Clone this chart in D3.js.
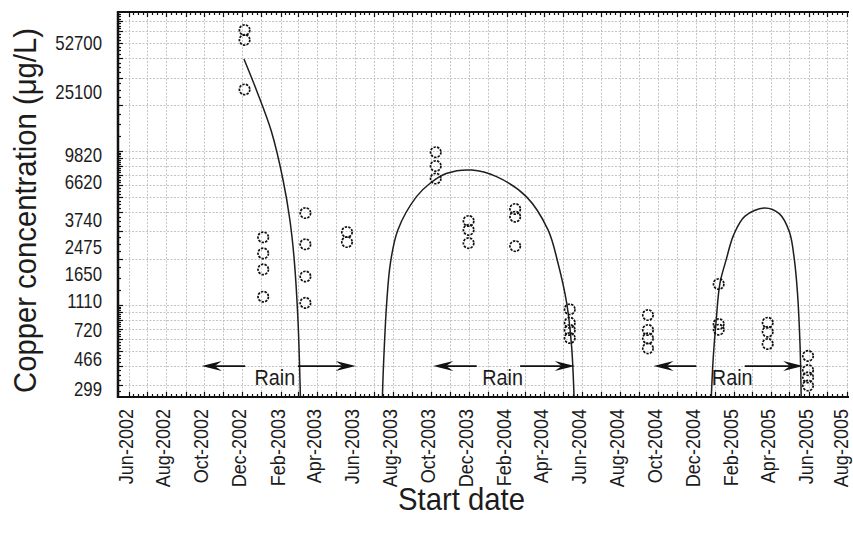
<!DOCTYPE html>
<html>
<head>
<meta charset="utf-8">
<script src="https://cdn.jsdelivr.net/npm/d3@7"></script>
<style>
  body { margin: 0; background: #fff; }
  svg text { font-family: "Liberation Sans", Arial, sans-serif; fill: #1c1c1c; }
</style>
</head>
<body>
<svg id="chart" width="853" height="535"></svg>
<script>
// ---- sampling campaigns: start date and copper concentrations (µg/L) ----
const sampleDates = [
  "2002-12-05", "2003-01-04", "2003-03-13", "2003-05-19",
  "2003-10-09", "2003-12-01", "2004-02-14", "2004-05-12",
  "2004-09-15", "2005-01-07", "2005-03-27", "2005-05-31"
];
const sampleValues = [
  [61100, 52700, 25100],
  [2750, 2160, 1700, 1130],
  [3950, 2475, 1530, 1030],
  [2975, 2560],
  [9820, 7990, 6620],
  [3510, 3070, 2520],
  [4200, 3740, 2410],
  [936, 766, 687, 609],
  [859, 687, 606, 522],
  [1367, 751, 690],
  [766, 669, 557],
  [466, 377, 338, 299]
];

// ---- seasonal trend curves ----
const trend1Dates = ["2002-12-04", "2002-12-24", "2003-01-17", "2003-02-05", "2003-02-16",
                     "2003-02-23", "2003-03-01", "2003-03-05"];
const trend1Values = [39600, 24900, 13490, 6480, 3560, 1960, 800, 245];

const trend2Dates = ["2003-07-15", "2003-07-17", "2003-07-22", "2003-07-28", "2003-08-09",
                     "2003-09-08", "2003-09-30", "2003-10-27", "2003-12-06", "2004-01-15",
                     "2004-03-03", "2004-04-07", "2004-04-23", "2004-05-07", "2004-05-15",
                     "2004-05-19"];
const trend2Values = [245, 419, 1029, 1870, 3070, 5050, 6170, 7160, 7520, 6810,
                      5050, 3070, 1870, 1030, 535, 245];

const trend3Dates = ["2004-12-26", "2004-12-29", "2005-01-03", "2005-01-09", "2005-01-19",
                     "2005-01-31", "2005-02-18", "2005-03-22", "2005-04-15", "2005-05-01",
                     "2005-05-09", "2005-05-14", "2005-05-18", "2005-05-20"];
const trend3Values = [245, 438, 797, 1380, 1960, 2840, 3760, 4260, 3900, 2975,
                      1960, 1190, 563, 245];

// ---- rain season annotations ----
const rainArrowFrom = ["2002-12-06", "2003-03-01", "2003-12-14", "2004-02-22", "2004-12-02", "2005-02-18"];
const rainArrowTo   = ["2002-09-27", "2003-06-02", "2003-10-05", "2004-05-20", "2004-09-24", "2005-05-23"];
const rainLabelDates = ["2002-12-21", "2003-12-23", "2004-12-27"];
const rainArrowLevel = 400;
const rainLabelLevel = 300;

// ---- axis labels ----
const yTickLabels = [299, 466, 720, 1110, 1650, 2475, 3740, 6620, 9820, 25100, 52700];
const xAxisTitle = "Start date";
const yAxisTitle = "Copper concentration (μg/L)";

// ------------------------------------------------------------------
const parse = d3.timeParse("%Y-%m-%d");
const svg = d3.select("#chart");

const plotLeft = 118, plotRight = 849, plotTop = 12, plotBottom = 397;

const x = d3.scaleTime()
  .domain([parse("2002-05-15"), parse("2005-08-05")])
  .range([plotLeft, plotRight]);
const y = d3.scaleLog()
  .domain([252, 80000])
  .range([plotBottom, plotTop]);

svg.append("defs").append("clipPath").attr("id", "plotClip")
  .append("rect")
  .attr("x", plotLeft).attr("y", plotTop)
  .attr("width", plotRight - plotLeft).attr("height", plotBottom - plotTop);

// grid
const months = d3.timeMonth.range(x.domain()[0], x.domain()[1]);
const gridValues = y.ticks().filter(v => v > y.domain()[0] && v < y.domain()[1]);

const grid = svg.append("g")
  .attr("stroke", "#c4c4c4")
  .attr("stroke-width", 1)
  .attr("stroke-dasharray", "2,1.5");

grid.selectAll("line.v").data(months).join("line")
  .attr("class", "v")
  .attr("x1", d => Math.round(x(d)) + 0.5).attr("x2", d => Math.round(x(d)) + 0.5)
  .attr("y1", plotTop).attr("y2", plotBottom);

grid.selectAll("line.h").data(gridValues).join("line")
  .attr("class", "h")
  .attr("x1", plotLeft).attr("x2", plotRight)
  .attr("y1", d => Math.round(y(d)) + 0.5).attr("y2", d => Math.round(y(d)) + 0.5);

// axis frame
const frame = svg.append("g").attr("stroke", "#111").attr("fill", "none");
frame.append("line").attr("x1", plotLeft).attr("x2", plotRight).attr("y1", plotTop).attr("y2", plotTop).attr("stroke-width", 2);
frame.append("line").attr("x1", plotLeft).attr("x2", plotRight).attr("y1", plotBottom).attr("y2", plotBottom).attr("stroke-width", 2);
frame.append("line").attr("x1", plotLeft).attr("x2", plotLeft).attr("y1", plotTop - 1).attr("y2", plotBottom + 1).attr("stroke-width", 2.5);

// x ticks: month starts plus quarter-month minors, on top and bottom
const xMinor = [];
months.forEach(m => {
  const next = d3.timeMonth.offset(m, 1);
  for (let k = 1; k < 4; k++) xMinor.push(new Date(+m + (next - m) * k / 4));
});
const xTickG = svg.append("g").attr("stroke", "#111").attr("stroke-width", 1.2);
[[months, 5], [xMinor.filter(d => x(d) < plotRight), 3]].forEach(([set, len]) => {
  set.forEach(d => {
    const px = Math.round(x(d)) + 0.5;
    xTickG.append("line").attr("x1", px).attr("x2", px).attr("y1", plotTop).attr("y2", plotTop + len);
    xTickG.append("line").attr("x1", px).attr("x2", px).attr("y1", plotBottom).attr("y2", plotBottom - len);
  });
});

// y ticks: grid values long, quarter-step minors short
const yMinor = [];
for (let e = 2; e <= 4; e++) {
  for (let m = 1; m < 10; m += 0.25) {
    const v = m * Math.pow(10, e);
    if (v > y.domain()[0] && v < y.domain()[1] && !gridValues.includes(v)) yMinor.push(v);
  }
}
const yTickG = svg.append("g").attr("stroke", "#111").attr("stroke-width", 1.2);
[[gridValues, 5], [yMinor, 3]].forEach(([set, len]) => {
  set.forEach(v => {
    const py = Math.round(y(v)) + 0.5;
    yTickG.append("line").attr("x1", plotLeft).attr("x2", plotLeft + len).attr("y1", py).attr("y2", py);
  });
});

// condensed lettering: glyphs are narrowed along the reading direction
// y tick labels
svg.append("g").selectAll("text").data(yTickLabels).join("text")
  .attr("transform", d => `translate(102,${y(d) + 10}) scale(0.84,1)`)
  .attr("text-anchor", "end")
  .attr("font-size", "20px")
  .text(d => d);

// x tick labels, every other month from Jun-2002 (kept inside the right edge)
const fmt = d3.timeFormat("%b-%Y");
const xLabelMonths = months.filter((d, i) => i % 2 === 0);
svg.append("g").selectAll("text").data(xLabelMonths).join("text")
  .attr("transform", d => `translate(${Math.min(x(d) + 4, 847.5)},409) rotate(-90) scale(0.88,1)`)
  .attr("text-anchor", "end")
  .attr("font-size", "20.5px")
  .text(d => fmt(d));

// axis titles
svg.append("text")
  .attr("transform", "translate(36,210.5) rotate(-90) scale(0.915,1)")
  .attr("text-anchor", "middle")
  .attr("font-size", "32px")
  .text(yAxisTitle);
svg.append("text")
  .attr("transform", "translate(461.5,510) scale(0.915,1)")
  .attr("text-anchor", "middle")
  .attr("font-size", "32px")
  .text(xAxisTitle);

// trend curves
const line = d3.line()
  .x(d => x(d[0]))
  .y(d => y(d[1]))
  .curve(d3.curveCatmullRom.alpha(0.5));
const trends = [
  [trend1Dates, trend1Values],
  [trend2Dates, trend2Values],
  [trend3Dates, trend3Values]
];
svg.append("g").attr("clip-path", "url(#plotClip)")
  .selectAll("path").data(trends).join("path")
  .attr("d", ([ds, vs]) => line(ds.map((d, i) => [parse(d), vs[i]])))
  .attr("fill", "none")
  .attr("stroke", "#1e1e1e")
  .attr("stroke-width", 1.5);

// sample points
const points = [];
sampleDates.forEach((d, i) => sampleValues[i].forEach(v => points.push([parse(d), v])));
svg.append("g").selectAll("circle").data(points).join("circle")
  .attr("cx", d => x(d[0]))
  .attr("cy", d => y(d[1]))
  .attr("r", 5.2)
  .attr("fill", "none")
  .attr("stroke", "#111")
  .attr("stroke-width", 1.7)
  .attr("stroke-dasharray", "2.4,1.2");

// rain season arrows
const ay = y(rainArrowLevel);
const arrows = svg.append("g");
rainArrowFrom.forEach((f, i) => {
  const x0 = x(parse(f));
  const x1 = x(parse(rainArrowTo[i]));
  const dir = x1 < x0 ? -1 : 1;
  arrows.append("line")
    .attr("x1", x0).attr("x2", x1 - dir * 12)
    .attr("y1", ay).attr("y2", ay)
    .attr("stroke", "#111").attr("stroke-width", 1.8);
  arrows.append("path")
    .attr("d", `M${x1},${ay} L${x1 - dir * 20},${ay - 5} L${x1 - dir * 13},${ay} L${x1 - dir * 20},${ay + 5} Z`)
    .attr("fill", "#111");
});
svg.append("g").selectAll("text").data(rainLabelDates).join("text")
  .attr("transform", d => `translate(${x(parse(d))},${y(rainLabelLevel)}) scale(0.9,1)`)
  .attr("font-size", "22px")
  .text("Rain");
</script>
</body>
</html>
